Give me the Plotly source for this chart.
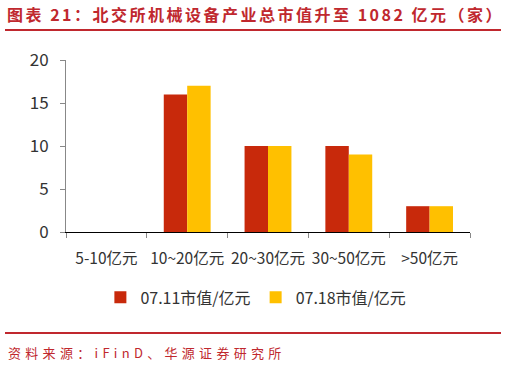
import plotly.graph_objects as go

categories = ["5-10亿元", "10~20亿元", "20~30亿元", "30~50亿元", ">50亿元"]
series_0711 = [0, 16, 10, 10, 3]
series_0718 = [0, 17, 10, 9, 3]
y_ticks = [0, 5, 10, 15, 20]

W, H = 507, 366
L, R, T, B = 66, 37, 60, 134

fig = go.Figure()
fig.add_trace(go.Bar(x=categories, y=series_0711, name="07.11市值/亿元",
                     marker=dict(color="#C8290B", line=dict(width=0))))
fig.add_trace(go.Bar(x=categories, y=series_0718, name="07.18市值/亿元",
                     marker=dict(color="#FFC000", line=dict(width=0))))

font_family = "Noto Sans CJK SC, Noto Sans, sans-serif"
fig.update_layout(
    width=W, height=H,
    margin=dict(l=L, r=R, t=T, b=B),
    paper_bgcolor="white", plot_bgcolor="white",
    barmode="group", bargap=0.42, bargroupgap=0,
    font=dict(family=font_family, size=13, color="#333333"),
    showlegend=True,
    legend=dict(orientation="h", x=0.47, xanchor="center", y=-0.38, yanchor="middle",
                font=dict(size=16, color="#333333"), itemwidth=30, traceorder="normal"),
    xaxis=dict(showline=True, linecolor="#000000", linewidth=1, ticks="outside",
               ticklen=5, tickcolor="#888888", tickson="boundaries", tickangle=0,
               ticklabelstandoff=12,
               showgrid=False, tickfont=dict(size=15.5, color="#333333")),
    yaxis=dict(range=[0, 20], tickvals=y_ticks, showline=True, linecolor="#888888",
               linewidth=1, ticks="outside", ticklen=5, tickcolor="#888888",
               ticklabelstandoff=8,
               showgrid=False, zeroline=False, tickfont=dict(size=17, color="#333333")),
)

fig.add_annotation(text="<b><span style='letter-spacing:2.5px'>图表 21：北交所机械设备产业总市值升至 1082 亿元（家）</span></b>",
                   xref="paper", yref="paper", x=-(L - 5) / (W - L - R), xanchor="left",
                   y=1 + (T - 14) / (H - T - B), yanchor="middle", showarrow=False,
                   font=dict(size=16, color="#C0282E", family=font_family))
fig.add_annotation(text="<span style='letter-spacing:4.3px'>资料来源：iFinD、华源证券研究所</span>",
                   xref="paper", yref="paper", x=-(L - 6) / (W - L - R), xanchor="left",
                   y=-(352 - (H - B)) / (H - T - B), yanchor="middle", showarrow=False,
                   font=dict(size=13, color="#C0282E", family=font_family))

def py(ypx):
    return 1 - (ypx - T) / (H - T - B)

def px(xpx):
    return (xpx - L) / (W - L - R)

for ypx in (30, 333):
    fig.add_shape(type="line", xref="paper", yref="paper",
                  x0=px(5), x1=px(501), y0=py(ypx), y1=py(ypx),
                  line=dict(color="#C0282E", width=2))

fig.write_html("out.html")
